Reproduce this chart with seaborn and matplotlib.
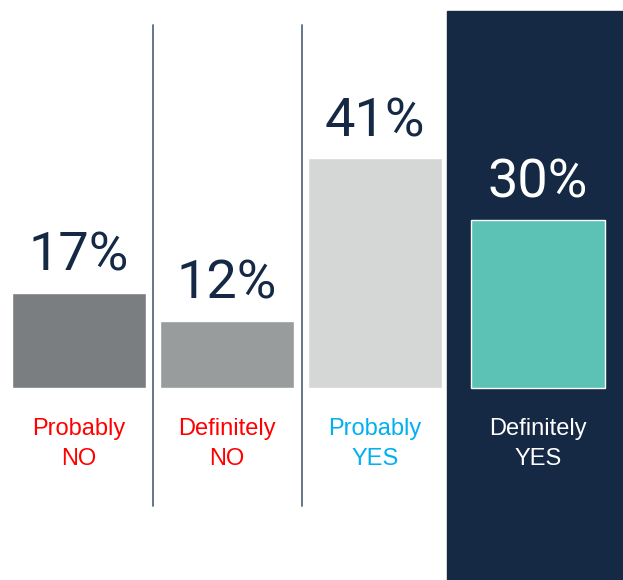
import numpy as np
import pandas as pd
import seaborn as sns
import matplotlib.pyplot as plt

# chart data
categories = ['Probably\nNO', 'Definitely\nNO', 'Probably\nYES', 'Definitely\nYES']
shares = [17, 12, 41, 30]
bar_colors = ['#7b7e80', '#999c9d', '#d5d6d6', '#5bc2b5']
label_colors = ['#ff0000', '#ff0000', '#00b0f0', '#ffffff']
pct_colors = ['#152945', '#152945', '#152945', '#ffffff']

# layout: last bar sits a bit further right, inside the dark panel
xpos = [0, 1, 2, 3.1]

df = pd.DataFrame({'x': xpos, 'share': shares, 'cat': categories})

sns.set_style('white')
fig = plt.figure(figsize=(6.23, 5.8), dpi=100)
ax = fig.add_axes([0, 0, 1, 1])

ax.set_xlim(-0.534, 3.676)
ax.set_ylim(-34.3, 69.3)

# dark highlight panel behind the last category
ax.axvspan(2.486, 3.676, ymin=0, ymax=0.981, color='#152945', zorder=0)

sns.barplot(data=df, x='x', y='share', hue='cat', palette=bar_colors,
            native_scale=True, width=0.905, legend=False, saturation=1,
            ax=ax, zorder=2)

# separators
for sx in [0.497, 1.507]:
    ax.plot([sx, sx], [-21.1, 64.8], color='#5a6a80', lw=1.3, zorder=1)

for x, v, c, lc, cat in zip(xpos, shares, pct_colors, label_colors, categories):
    ax.text(x, v + 2.0, f'{v}%', ha='center', va='bottom', color=c,
            fontsize=39, family=['Roboto', 'DejaVu Sans'])
    ax.text(x, -10.0, cat, ha='center', va='center', color=lc,
            fontsize=17, linespacing=1.45,
            family=['Liberation Sans Narrow', 'Liberation Sans', 'DejaVu Sans'])

ax.axis('off')
fig.savefig('out.png', dpi=100, facecolor='white')
